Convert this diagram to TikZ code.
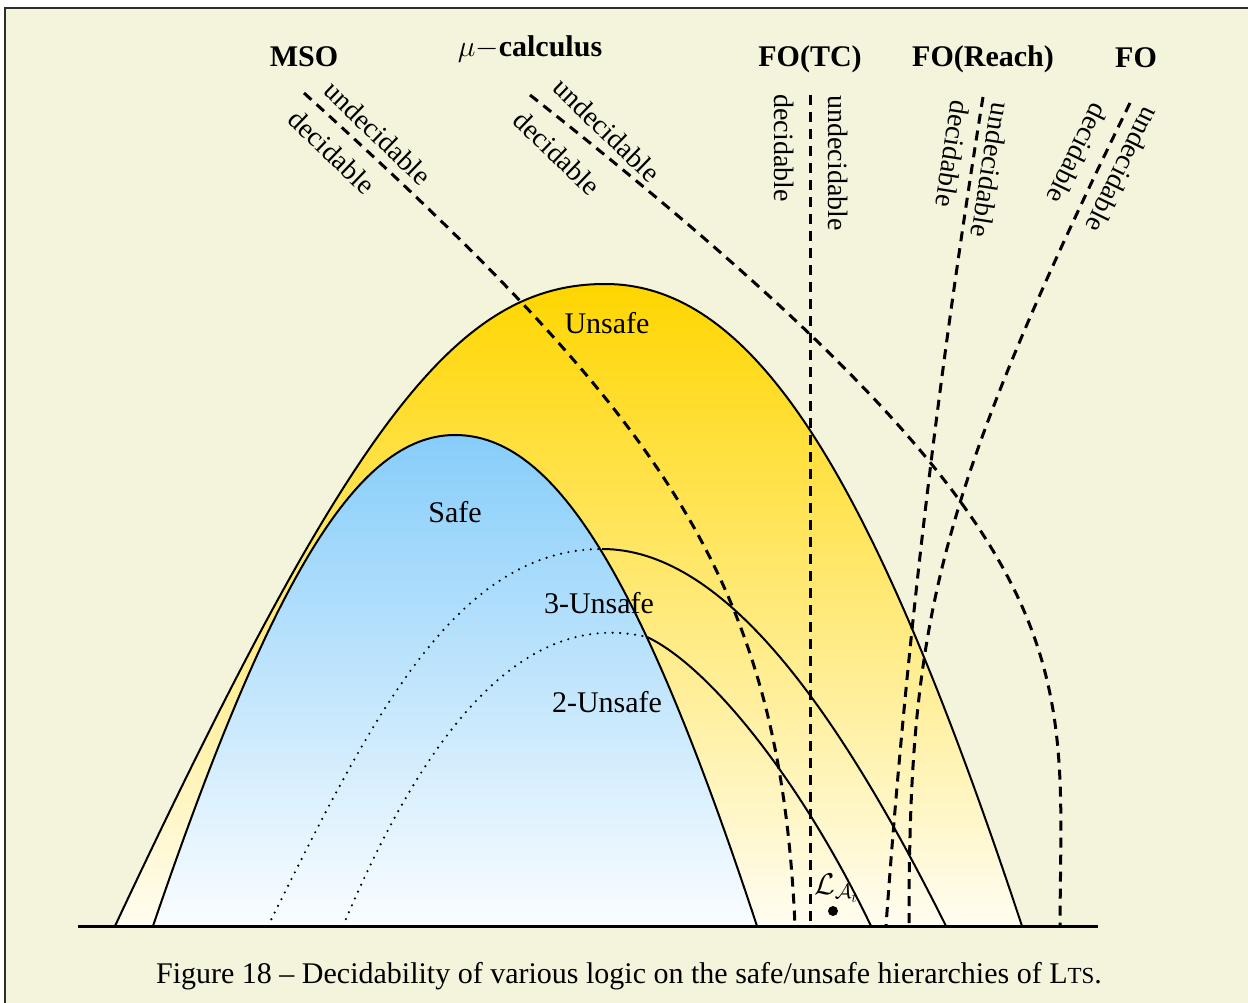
\RequirePackage{fix-cm}
\documentclass[tikz,border=0pt]{standalone}
\usepackage{fontspec}
\setmainfont{Liberation Serif}
\definecolor{bg}{RGB}{244,244,220}
\definecolor{framecol}{RGB}{45,45,45}
\definecolor{goldtop}{RGB}{255,214,0}
\definecolor{goldbot}{RGB}{255,253,242}
\definecolor{bluetop}{RGB}{135,205,250}
\definecolor{bluebot}{RGB}{250,253,255}
\begin{document}
\begin{tikzpicture}[x=1pt,y=-1pt,
  curve/.style={line width=2pt},
  dashline/.style={line width=3pt, dash pattern=on 10pt off 7pt},
  dotline/.style={line width=2.4pt, line cap=round, dash pattern=on 0pt off 7.5pt},
  region/.style={font=\fontsize{30}{36}\selectfont, anchor=base, inner sep=0pt},
  logic/.style={font=\bfseries\fontsize{30}{36}\selectfont, anchor=base, inner sep=0pt},
  side/.style={font=\fontsize{28}{34}\selectfont, inner sep=0pt},
]
\useasboundingbox (0,0) rectangle (1248,1003);
\fill[white] (0,0) rectangle (1248,1003);
\filldraw[fill=bg, draw=framecol, line width=2pt] (5,8) rectangle (1262,1018);

% key points
\coordinate (uL) at (115,926);
\coordinate (uT) at (605,284);
\coordinate (uR) at (1022,926);
\coordinate (sL) at (153,926);
\coordinate (sT) at (455,435);
\coordinate (sR) at (757,926);
\coordinate (tL) at (268,926);
\coordinate (tJ) at (602,549);
\coordinate (tR) at (946,926);
\coordinate (wL) at (343,926);
\coordinate (wJ) at (647,637);
\coordinate (wR) at (871,926);

% Unsafe region
\path[top color=goldtop, bottom color=goldbot]
  (uL) .. controls (350,426) and (455,284) .. (uT)
       .. controls (755,284) and (873,476) .. (uR) -- cycle;
\draw[curve] (uL) .. controls (350,426) and (455,284) .. (uT)
       .. controls (755,284) and (873,476) .. (uR);

% Safe region
\path[top color=bluetop, bottom color=bluebot]
  (sL) .. controls (269,586) and (355,435) .. (sT)
       .. controls (555,435) and (641.5,576) .. (sR) -- cycle;
\draw[curve] (sL) .. controls (269,586) and (355,435) .. (sT)
       .. controls (555,435) and (641.5,576) .. (sR);

% 3-Unsafe
\draw[dotline] (tL) .. controls (368,726) and (453,549) .. (tJ);
\draw[curve] (tJ) .. controls (723,549) and (836,706) .. (tR);
% 2-Unsafe
\draw[dotline] (wL) .. controls (440,696) and (540,612) .. (wJ);
\draw[curve] (wJ) .. controls (707,665) and (799,776) .. (wR);

% logic borders
\coordinate (msoT) at (304,93);
\coordinate (msoB) at (795,926);
\coordinate (muT) at (530,95);
\coordinate (muB) at (1060,926);
\coordinate (tcT) at (810,95);
\coordinate (tcB) at (810,926);
\coordinate (reT) at (983,97);
\coordinate (reB) at (886,926);
\coordinate (foT) at (1130,103);
\coordinate (foB) at (909,926);
\draw[dashline] (msoT) .. controls (665,420) and (780,580) .. (msoB);
\draw[dashline] (muT) .. controls (1100,545) and (1061,660) .. (muB);
\draw[dashline] (tcT) -- (tcB);
\draw[dashline] (reT) .. controls (938,377) and (906,646) .. (reB);
\draw[dashline] (foT) .. controls (934,503) and (909,626) .. (foB);

% baseline
\coordinate (axL) at (78,926);
\coordinate (axR) at (1098,926);
\draw[line width=3pt] (axL) -- (axR);

% region labels
\node[region] (lunsafe) at (607,333) {Unsafe};
\node[region] (lsafe) at (455,522) {Safe};
\node[region] (l3) at (599,613) {3-Unsafe};
\node[region] (l2) at (607,712) {2-Unsafe};

% logic titles
\node[logic] (tmso) at (304,67) {MSO};
\node[logic] (tmu) at (530,57) {$\mu-$calculus};
\node[logic] (ttc) at (810,67) {FO(TC)};
\node[logic] (tre) at (983,67) {FO(Reach)};
\node[logic] (tfo) at (1136,68) {FO};

% side labels
\node[side, rotate=-44] (msou) at (378,133) {undecidable};
\node[side, rotate=-44] (msod) at (332,152) {decidable};
\node[side, rotate=-44] (muu) at (607,130) {undecidable};
\node[side, rotate=-44] (mud) at (557,153) {decidable};
\node[side, rotate=-90] (tcd) at (784,148) {decidable};
\node[side, rotate=-90] (tcu) at (838,163) {undecidable};
\node[side, rotate=-99] (red) at (953,154) {decidable};
\node[side, rotate=-99] (reu) at (991,170) {undecidable};
\node[side, rotate=-116] (fod) at (1078,154) {decidable};
\node[side, rotate=-116] (fou) at (1123,170) {undecidable};

% L_At
\node[font=\fontsize{30}{36}\selectfont, inner sep=0pt] (lat) at (836,888) {$\mathcal{L}_{\mathcal{A}_t}$};
\fill (833,911) circle (5pt);

% caption
\node[region] (cap) at (629,983) {Figure 18 -- Decidability of various logic on the safe/unsafe hierarchies of L{\fontsize{23}{23}\selectfont TS}.};
\end{tikzpicture}
\end{document}
